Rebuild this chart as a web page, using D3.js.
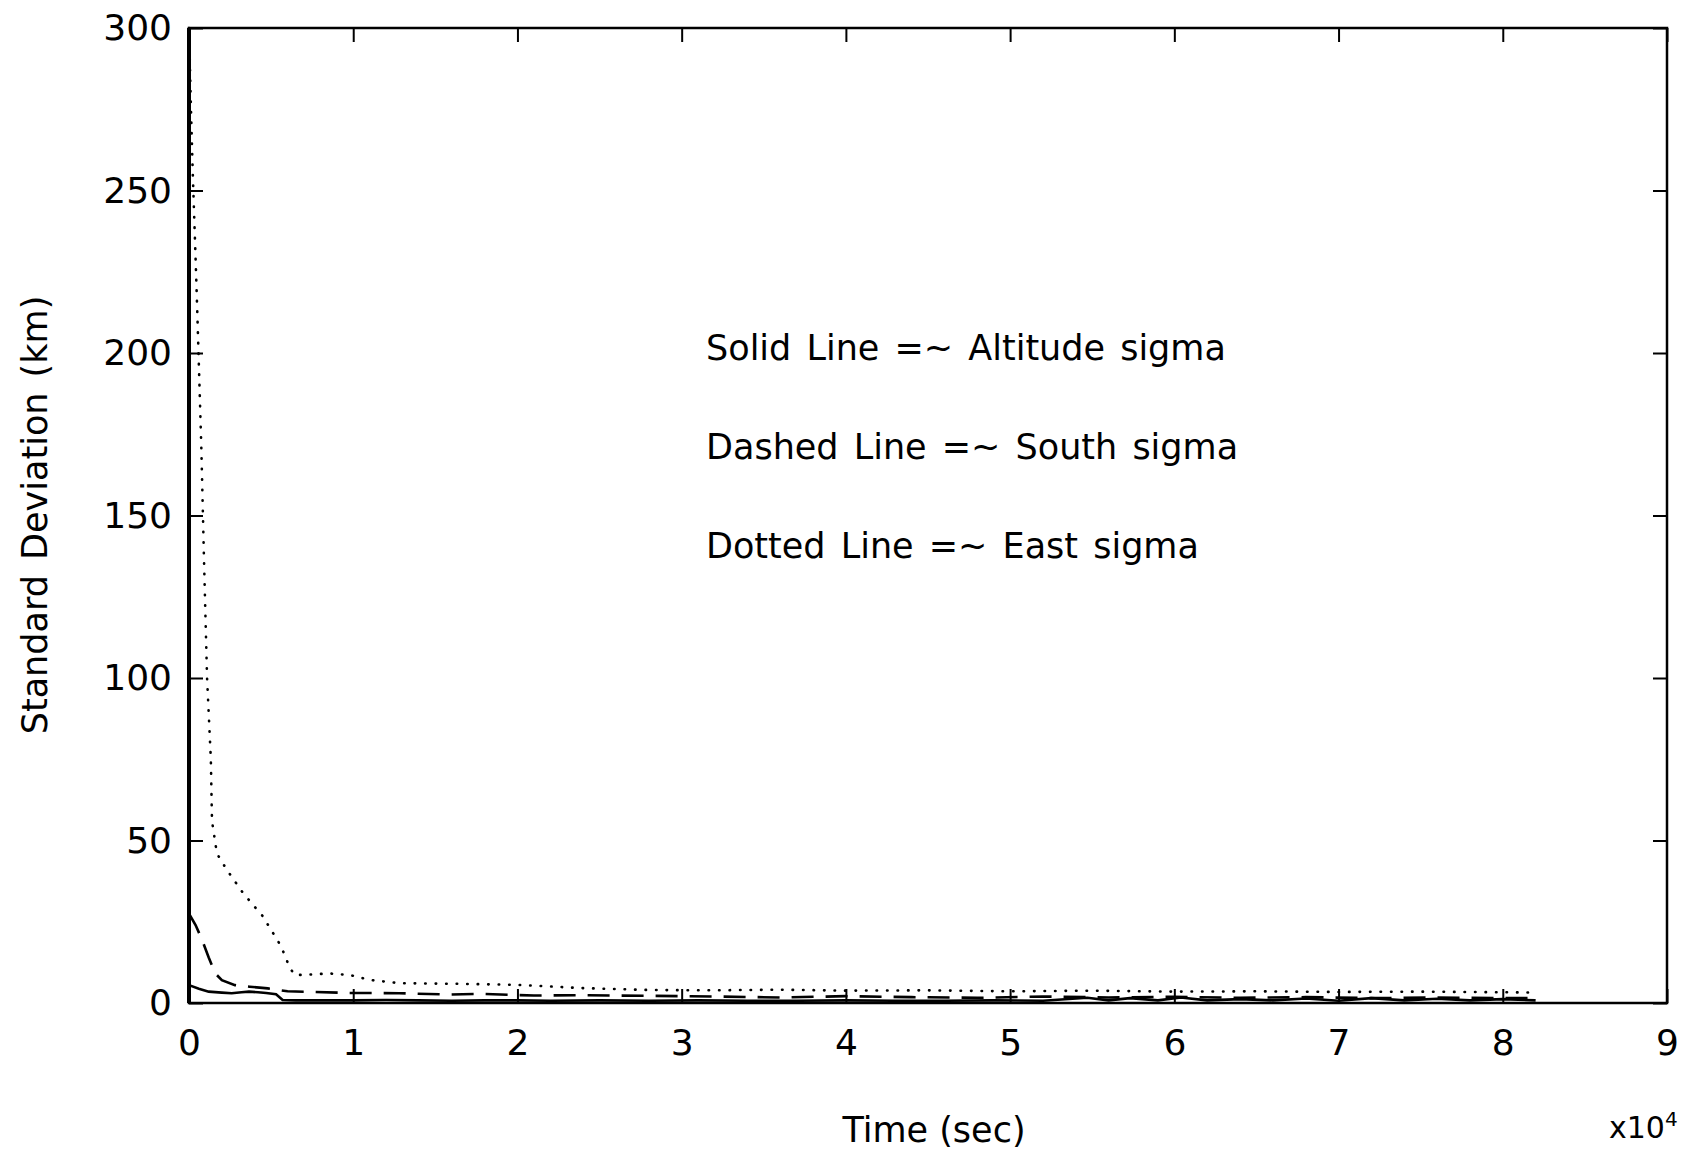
<!DOCTYPE html>
<html>
<head>
<meta charset="utf-8">
<script src="https://cdn.jsdelivr.net/npm/d3@7"></script>
<style>
  body { margin: 0; background: #fff; }
  text { font-family: "DejaVu Sans", sans-serif; fill: #000; }
</style>
</head>
<body>
<script>
// time in seconds, sigma in km
const eastTime  = [0, 120, 225, 440, 520, 750, 915, 1100, 1330, 1400, 1700, 2300, 3300, 4000, 4450, 5000, 5600, 6150, 6450, 7500, 8500, 9800, 11000, 12800, 16400, 19900, 23900, 28000, 32000, 36000, 40000, 45000, 50000, 55000, 60000, 65000, 70000, 75000, 80000, 82000];
const eastSigma = [300, 275, 256, 223, 210, 171, 136, 100, 75, 56, 46, 41, 33.8, 29.6, 27, 22.5, 17.5, 10.7, 8.6, 8.8, 9.1, 8.6, 7.1, 6.1, 5.9, 5.6, 4.6, 4.0, 3.9, 4.1, 3.8, 3.9, 3.6, 3.8, 3.5, 3.6, 3.4, 3.5, 3.3, 3.2];

const southTime  = [0, 400, 800, 1200, 1600, 2000, 2800, 3700, 4800, 6000, 7700, 9700, 12800, 15800, 17800, 21000, 24000, 28000, 32000, 36000, 40000, 44000, 48000, 52000, 56000, 60000, 64000, 68000, 72000, 76000, 80000, 82000];
const southSigma = [27.5, 24, 19.4, 14, 9.1, 7.0, 5.5, 5.0, 4.5, 3.6, 3.4, 3.1, 3.0, 2.6, 2.8, 2.3, 2.4, 2.2, 2.0, 1.7, 2.1, 1.8, 1.6, 2.0, 1.7, 1.9, 1.6, 1.8, 1.5, 1.7, 1.5, 1.5];

const altTime  = [0, 600, 1200, 2000, 2600, 3200, 3650, 4200, 4700, 5300, 5700, 6500, 8000, 10000, 12000, 14000, 16000, 18000, 20000, 22000, 25000, 28000, 31000, 34000, 37000, 40000, 43000, 46000, 49000, 52000, 54700, 56000, 57300, 59000, 60400, 62000, 64000, 66000, 68000, 70000, 72000, 74000, 76000, 78000, 80000, 82000];
const altSigma = [5.5, 4.4, 3.5, 3.2, 3.0, 3.3, 3.5, 3.3, 3.1, 2.7, 0.9, 0.8, 0.8, 0.8, 0.9, 0.8, 0.7, 0.8, 0.8, 0.7, 0.8, 0.7, 0.8, 0.7, 0.7, 0.8, 0.7, 0.7, 0.8, 0.7, 1.6, 0.8, 1.5, 0.8, 1.7, 0.8, 1.2, 0.8, 1.4, 0.7, 1.5, 0.8, 1.3, 0.8, 1.2, 0.8];

const xTicks = [0, 10000, 20000, 30000, 40000, 50000, 60000, 70000, 80000, 90000];
const yTicks = [0, 50, 100, 150, 200, 250, 300];

const legendLines = ["Solid Line =~ Altitude sigma", "Dashed Line =~ South sigma", "Dotted Line =~ East sigma"];

const w = 1688, h = 1150;
const plotLeft = 189, plotRight = 1667, plotTop = 28, plotBottom = 1003;
const tick = 14;

const svg = d3.select("body").append("svg")
  .attr("width", w)
  .attr("height", h);

svg.append("rect").attr("width", w).attr("height", h).attr("fill", "#fff");

const xScale = d3.scaleLinear().domain([0, 90000]).range([plotLeft, plotRight]);
const yScale = d3.scaleLinear().domain([0, 300]).range([plotBottom, plotTop]);

// series lines
const line = d3.line()
  .x(d => xScale(d[0]))
  .y(d => yScale(d[1]));

const series = [
  { data: d3.zip(altTime, altSigma),     dash: null,    width: 2.6, cap: "butt" },
  { data: d3.zip(southTime, southSigma), dash: "22,12", width: 2.6, cap: "butt" },
  { data: d3.zip(eastTime, eastSigma),   dash: "0.5,10", width: 2.6, cap: "round" }
];

svg.selectAll("path.series")
  .data(series)
  .enter()
  .append("path")
  .attr("class", "series")
  .attr("d", d => line(d.data))
  .attr("fill", "none")
  .attr("stroke", "#000")
  .attr("stroke-width", d => d.width)
  .attr("stroke-linecap", d => d.cap)
  .attr("stroke-dasharray", d => d.dash);

// axes, ticks pointing inwards on all four sides
const fmtX = d => d / 10000;

svg.append("g")
  .attr("transform", "translate(0," + plotBottom + ")")
  .call(d3.axisBottom(xScale).tickValues(xTicks).tickFormat(fmtX)
    .tickSizeInner(-tick).tickSizeOuter(0).tickPadding(26));

svg.append("g")
  .attr("transform", "translate(" + plotLeft + ",0)")
  .call(d3.axisLeft(yScale).tickValues(yTicks)
    .tickSizeInner(-tick).tickSizeOuter(0).tickPadding(17));

svg.append("g")
  .attr("transform", "translate(0," + plotTop + ")")
  .call(d3.axisTop(xScale).tickValues(xTicks).tickFormat("")
    .tickSizeInner(-tick).tickSizeOuter(0));

svg.append("g")
  .attr("transform", "translate(" + plotRight + ",0)")
  .call(d3.axisRight(yScale).tickValues(yTicks).tickFormat("")
    .tickSizeInner(-tick).tickSizeOuter(0));

svg.selectAll(".domain").remove();
svg.selectAll(".tick line").attr("stroke", "#000").attr("stroke-width", 2);
svg.selectAll(".tick text")
  .style("font-family", "'DejaVu Sans', sans-serif")
  .style("font-size", "36px")
  .attr("fill", "#000");

// frame
svg.append("rect")
  .attr("x", plotLeft)
  .attr("y", plotTop)
  .attr("width", plotRight - plotLeft)
  .attr("height", plotBottom - plotTop)
  .attr("fill", "none")
  .attr("stroke", "#000")
  .attr("stroke-width", 2.5);
svg.append("line")
  .attr("x1", plotLeft).attr("x2", plotLeft)
  .attr("y1", plotTop).attr("y2", plotBottom)
  .attr("stroke", "#000")
  .attr("stroke-width", 4);

// axis titles
svg.append("text")
  .attr("x", 934)
  .attr("y", 1142)
  .attr("text-anchor", "middle")
  .style("font-size", "35px")
  .text("Time (sec)");

const mult = svg.append("text")
  .attr("x", 1609)
  .attr("y", 1138)
  .style("font-size", "30px");
mult.append("tspan").text("x10");
mult.append("tspan").attr("dy", -12).style("font-size", "20px").text("4");

svg.append("text")
  .attr("transform", "translate(47,515) rotate(-90)")
  .attr("text-anchor", "middle")
  .style("font-size", "35px")
  .style("word-spacing", "4px")
  .text("Standard Deviation (km)");

// legend text
svg.selectAll("text.legend")
  .data(legendLines)
  .enter()
  .append("text")
  .attr("class", "legend")
  .attr("x", 706)
  .attr("y", (d, i) => 360 + i * 99)
  .style("font-size", "35px")
  .style("word-spacing", "4px")
  .text(d => d);
</script>
</body>
</html>
